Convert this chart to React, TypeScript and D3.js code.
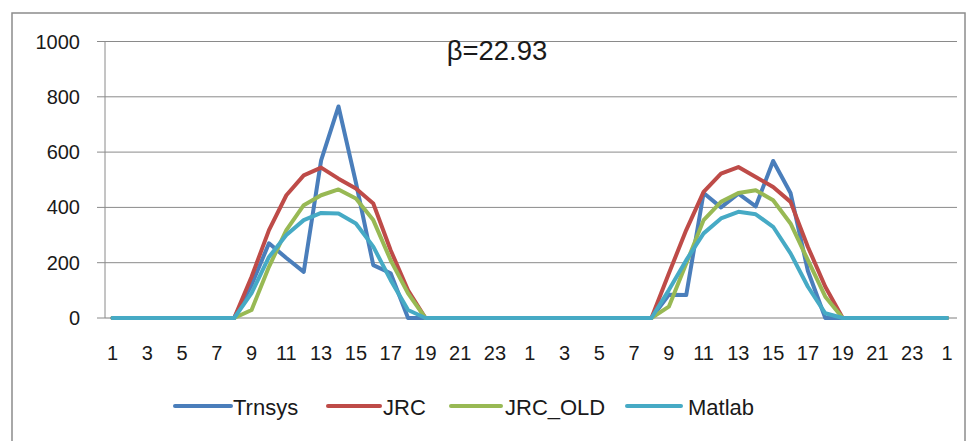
import React from "react";
import * as d3 from "d3";

const hours: number[] = Array.from({ length: 49 }, (_, i) => (i % 24) + 1);

const trnsys = [
  0, 0, 0, 0, 0, 0, 0, 0, 120, 270, 217, 167, 570, 765, 490, 191, 162, 0, 0, 0, 0, 0, 0, 0,
  0, 0, 0, 0, 0, 0, 0, 0, 84, 83, 452, 400, 450, 404, 568, 452, 170, 0, 0, 0, 0, 0, 0, 0,
  0,
];
const jrc = [
  0, 0, 0, 0, 0, 0, 0, 0, 149, 318, 444, 516, 544, 504, 468, 414, 245, 100, 0, 0, 0, 0, 0, 0,
  0, 0, 0, 0, 0, 0, 0, 0, 161, 318, 456, 522, 546, 510, 474, 420, 257, 113, 0, 0, 0, 0, 0, 0,
  0,
];
const jrcOld = [
  0, 0, 0, 0, 0, 0, 0, 0, 29, 185, 318, 408, 444, 465, 432, 354, 209, 89, 0, 0, 0, 0, 0, 0,
  0, 0, 0, 0, 0, 0, 0, 0, 41, 197, 354, 420, 452, 462, 426, 342, 209, 77, 0, 0, 0, 0, 0, 0,
  0,
];
const matlab = [
  0, 0, 0, 0, 0, 0, 0, 0, 90, 221, 300, 354, 380, 378, 342, 258, 137, 29, 0, 0, 0, 0, 0, 0,
  0, 0, 0, 0, 0, 0, 0, 0, 101, 209, 306, 360, 384, 375, 330, 234, 113, 17, 0, 0, 0, 0, 0, 0,
  0,
];

const seriesNames = ["Trnsys", "JRC", "JRC_OLD", "Matlab"];
const seriesColors = ["#4A7EBB", "#BE4B48", "#98B954", "#46AAC5"];
const seriesData = [trnsys, jrc, jrcOld, matlab];
const yTicks = [0, 200, 400, 600, 800, 1000];
const title = "β=22.93";

const FONT = "'Liberation Sans', Arial, sans-serif";

export default function App() {
  const idx = hours.map((_, i) => i);
  const x = d3.scalePoint<number>().domain(idx).range([112.5, 947]);
  const y = d3.scaleLinear().domain([0, 1000]).range([318, 41.5]);
  const line = d3
    .line<number>()
    .x((_, i) => x(i) as number)
    .y((d) => y(d));

  const legendItems = [
    { lx: 175, lw: 56, tx: 233 },
    { lx: 328, lw: 52, tx: 383 },
    { lx: 451, lw: 50, tx: 505 },
    { lx: 627, lw: 54, tx: 688 },
  ];

  return (
    <svg
      width={972}
      height={441}
      style={{ position: "fixed", left: 0, top: 0, background: "#fff" }}
      fontFamily={FONT}
    >
      <rect x={0} y={0} width={972} height={441} fill="#fff" />
      <rect x={12} y={13} width={953} height={440} fill="none" stroke="#8c8c8c" strokeWidth={1.5} />
      {yTicks.map((t) => (
        <g key={t}>
          <line x1={105} x2={957} y1={y(t)} y2={y(t)} stroke={t === 0 ? "#7f7f7f" : "#8a8a8a"} strokeWidth={1} />
          <line x1={97} x2={105} y1={y(t)} y2={y(t)} stroke="#8a8a8a" strokeWidth={1} />
          <text x={80} y={y(t)} dy="0.35em" textAnchor="end" fontSize={20} fill="#1a1a1a">
            {t}
          </text>
        </g>
      ))}
      <line x1={105} x2={105} y1={y(1000)} y2={y(0)} stroke="#8a8a8a" strokeWidth={1} />
      {idx
        .filter((i) => i % 2 === 0)
        .map((i) => (
          <text key={i} x={x(i) as number} y={353} dy="0.35em" textAnchor="middle" fontSize={20} fill="#1a1a1a">
            {hours[i]}
          </text>
        ))}
      {seriesData.map((s, k) => (
        <path
          key={seriesNames[k]}
          d={line(s) || ""}
          fill="none"
          stroke={seriesColors[k]}
          strokeWidth={4}
          strokeLinejoin="round"
          strokeLinecap="round"
        />
      ))}
      <text x={497} y={50} dy="0.35em" textAnchor="middle" fontSize={27.5} fill="#1a1a1a">
        {title}
      </text>
      {seriesNames.map((n, k) => (
        <g key={n}>
          <line
            x1={legendItems[k].lx}
            x2={legendItems[k].lx + legendItems[k].lw}
            y1={406}
            y2={406}
            stroke={seriesColors[k]}
            strokeWidth={4}
            strokeLinecap="round"
          />
          <text x={legendItems[k].tx} y={407} dy="0.35em" fontSize={22} fill="#1a1a1a">
            {n}
          </text>
        </g>
      ))}
    </svg>
  );
}
